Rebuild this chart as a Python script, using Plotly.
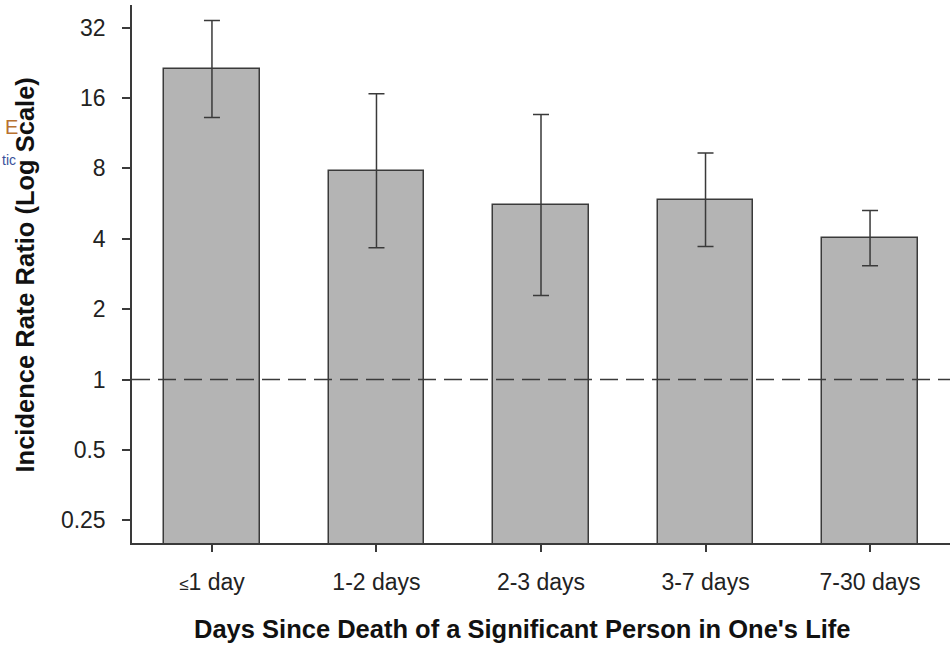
import plotly.graph_objects as go
import numpy as np

categories = ["≤1 day", "1-2 days", "2-3 days", "3-7 days", "7-30 days"]
tick_labels_x = ["<span style='font-size:17px'>≤</span>1 day", "1-2 days", "2-3 days", "3-7 days", "7-30 days"]
irr = [21.2, 7.8, 5.6, 5.88, 4.03]
ci_upper = [34.3, 16.7, 13.6, 9.31, 5.29]
ci_lower = [13.2, 3.66, 2.29, 3.71, 3.07]
y_tick_vals = [0.25, 0.5, 1, 2, 4, 8, 16, 32]
y_tick_text = ["0.25", "0.5", "1", "2", "4", "8", "16", "32"]
reference_value = 1

err_plus = [u - v for u, v in zip(ci_upper, irr)]
err_minus = [v - l for v, l in zip(irr, ci_lower)]

FONT = "Liberation Sans, Arial, sans-serif"
DARK = "#3a3a3a"

fig = go.Figure()
fig.add_trace(go.Bar(
    x=list(range(len(categories))),
    y=irr,
    width=0.58,
    marker=dict(color="#b4b4b4", line=dict(color=DARK, width=1.5)),
    error_y=dict(type="data", symmetric=False, array=err_plus, arrayminus=err_minus,
                 color=DARK, thickness=1.5, width=8),
    hoverinfo="skip",
    showlegend=False,
))

fig.add_shape(type="line", xref="paper", yref="y", x0=0, x1=1,
              y0=reference_value, y1=reference_value,
              line=dict(color=DARK, width=1.6, dash="18px,8px"), layer="above")

fig.update_layout(
    width=950, height=651,
    margin=dict(l=132, r=0, t=5, b=108),
    plot_bgcolor="white", paper_bgcolor="white",
    font=dict(family=FONT, color="#222222"),
    bargap=0,
    xaxis=dict(
        range=[-0.486, 4.486],
        tickmode="array", tickvals=list(range(len(categories))), ticktext=tick_labels_x,
        ticks="outside", ticklen=7, tickwidth=1.5, tickcolor=DARK,
        showline=True, linecolor=DARK, linewidth=1.5,
        showgrid=False, zeroline=False,
        tickfont=dict(size=23, family=FONT, color="#222222"),
        ticklabelstandoff=11,
    ),
    yaxis=dict(
        type="log",
        range=[np.log10(0.2), np.log10(40)],
        tickmode="array", tickvals=y_tick_vals, ticktext=y_tick_text,
        ticks="outside", ticklen=8, tickwidth=1.5, tickcolor=DARK,
        showline=True, linecolor=DARK, linewidth=1.5,
        showgrid=False, zeroline=False,
        tickfont=dict(size=23, family=FONT, color="#222222"),
        ticklabelstandoff=12,
    ),
    annotations=[
        dict(text="<b>Days Since Death of a Significant Person in One's Life</b>",
             xref="paper", yref="paper", x=(522 - 132) / 818, y=(543 - 629) / 538,
             xanchor="center", yanchor="middle", showarrow=False,
             font=dict(size=25.5, family=FONT, color="#111111")),
        dict(text="<b>Incidence Rate Ratio (Log Scale)</b>",
             xref="paper", yref="paper", x=(25 - 132) / 818, y=(543 - 275.5) / 538,
             xanchor="center", yanchor="middle", textangle=-90, showarrow=False,
             font=dict(size=25.5, family=FONT, color="#111111")),
        dict(text="E", xref="paper", yref="paper", x=(3 - 132) / 818, y=(543 - 127) / 538,
             xanchor="left", yanchor="middle", showarrow=False,
             font=dict(size=20, family=FONT, color="#b8712f")),
        dict(text="tic", xref="paper", yref="paper", x=(0 - 132) / 818, y=(543 - 160) / 538,
             xanchor="left", yanchor="middle", showarrow=False,
             font=dict(size=14, family=FONT, color="#3a4f9a")),
    ],
)

fig.write_html("out.html")
